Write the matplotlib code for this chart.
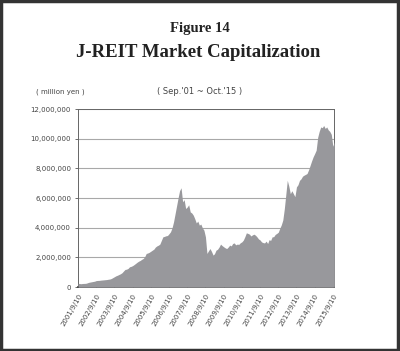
import numpy as np
import pandas as pd
import matplotlib
matplotlib.use('Agg')
import matplotlib.pyplot as plt
import matplotlib.dates as mdates
from matplotlib.patches import Rectangle
from matplotlib.ticker import FuncFormatter

# monthly market capitalization, million yen, Sep 2001 - Oct 2015
cap_2001 = [260000, 240000, 230000, 245000]
cap_2002 = [250000, 255000, 280000, 320000, 340000, 360000,
            380000, 400000, 440000, 450000, 455000, 470000]
cap_2003 = [480000, 490000, 500000, 510000, 530000, 545000,
            580000, 640000, 700000, 760000, 800000, 850000]
cap_2004 = [900000, 970000, 1080000, 1190000, 1210000, 1260000,
            1370000, 1400000, 1450000, 1520000, 1600000, 1680000]
cap_2005 = [1750000, 1800000, 1870000, 1930000, 2050000, 2270000,
            2300000, 2350000, 2420000, 2490000, 2560000, 2700000]
cap_2006 = [2780000, 2830000, 2900000, 3150000, 3390000, 3420000,
            3460000, 3480000, 3600000, 3730000, 4000000, 4400000]
cap_2007 = [4950000, 5500000, 6000000, 6500000, 6700000, 5750000,
            5900000, 5300000, 5400000, 5550000, 5070000, 5000000]
cap_2008 = [4850000, 4600000, 4330000, 4450000, 4180000, 4250000,
            4000000, 3840000, 3390000, 2270000, 2450000, 2600000]
cap_2009 = [2400000, 2160000, 2250000, 2490000, 2550000, 2700000,
            2900000, 2800000, 2720000, 2650000, 2600000, 2700000]
cap_2010 = [2830000, 2780000, 2940000, 2980000, 2850000, 2900000,
            2880000, 2990000, 3050000, 3170000, 3400000, 3660000]
cap_2011 = [3620000, 3570000, 3450000, 3520000, 3570000, 3500000,
            3390000, 3250000, 3180000, 3050000, 3000000, 2980000]
cap_2012 = [3100000, 2940000, 3200000, 3150000, 3390000, 3400000,
            3550000, 3620000, 3700000, 3960000, 4200000, 4520000]
cap_2013 = [5300000, 6300000, 7200000, 6800000, 6300000, 6500000,
            6300000, 6100000, 6760000, 6900000, 7200000, 7300000]
cap_2014 = [7480000, 7550000, 7600000, 7660000, 7900000, 8200000,
            8500000, 8780000, 9000000, 9230000, 10100000, 10500000]
cap_2015 = [10800000, 10750000, 10900000, 10700000, 10800000, 10600000,
            10500000, 10300000, 9500000, 9800000]

cap = (cap_2001 + cap_2002 + cap_2003 + cap_2004 + cap_2005 + cap_2006 +
       cap_2007 + cap_2008 + cap_2009 + cap_2010 + cap_2011 + cap_2012 +
       cap_2013 + cap_2014 + cap_2015)
dates = pd.date_range('2001-09-10', periods=len(cap), freq=pd.DateOffset(months=1))

tick_years = list(range(2001, 2016))
tick_labels = ['%d/9/10' % y for y in tick_years]
y_ticks = [0, 2000000, 4000000, 6000000, 8000000, 10000000, 12000000]

fig = plt.figure(figsize=(4.0, 3.51), dpi=100)
fig.patch.set_facecolor('white')
ax = fig.add_axes([0.195, 0.182, 0.639, 0.507])

ax.fill_between(dates, cap, 0, color='#98989c', lw=0, zorder=3)
ax.set_xlim(pd.Timestamp('2001-09-10'), pd.Timestamp('2015-09-25'))
ax.set_ylim(0, 12000000)

ax.set_yticks(y_ticks)
ax.yaxis.set_major_formatter(FuncFormatter(lambda v, p: '{:,.0f}'.format(v)))
ax.grid(axis='y', color='#a8a8a8', lw=0.8, zorder=1)

tick_dates = [pd.Timestamp('%d-09-10' % y) for y in tick_years]
ax.set_xticks(tick_dates)
ax.set_xticklabels(tick_labels, rotation=60, ha='right', rotation_mode='anchor')

ax.tick_params(axis='y', direction='out', length=2, width=0.6, colors='#555555',
               labelsize=5, labelcolor='#444444', pad=3)
ax.tick_params(axis='x', direction='in', length=2, width=0.6, colors='#333333',
               labelsize=5, labelcolor='#444444', pad=4)
for s in ['top', 'right', 'left']:
    ax.spines[s].set_color('#666666')
    ax.spines[s].set_linewidth(0.7)
ax.spines['bottom'].set_color('#333333')
ax.spines['bottom'].set_linewidth(1.2)
ax.set_axisbelow(True)

fig.text(0.5, 0.918, 'Figure 14', ha='center', va='center', fontsize=10.5,
         fontweight='bold', family='Liberation Serif', color='#222222')
fig.text(0.495, 0.85, 'J-REIT Market Capitalization', ha='center', va='center',
         fontsize=13.5, fontweight='bold', family='Liberation Serif', color='#222222')
fig.text(0.15, 0.738, '( million yen )', ha='center', va='center', fontsize=5,
         color='#444444')
fig.text(0.5, 0.738, "( Sep.'01 ~ Oct.'15 )", ha='center', va='center', fontsize=6,
         color='#444444')

fig.patches.append(Rectangle((0.002, 0.003), 0.994, 0.994, transform=fig.transFigure,
                             fill=False, ec='#333333', lw=2.5))

plt.savefig('out.png', dpi=100)
